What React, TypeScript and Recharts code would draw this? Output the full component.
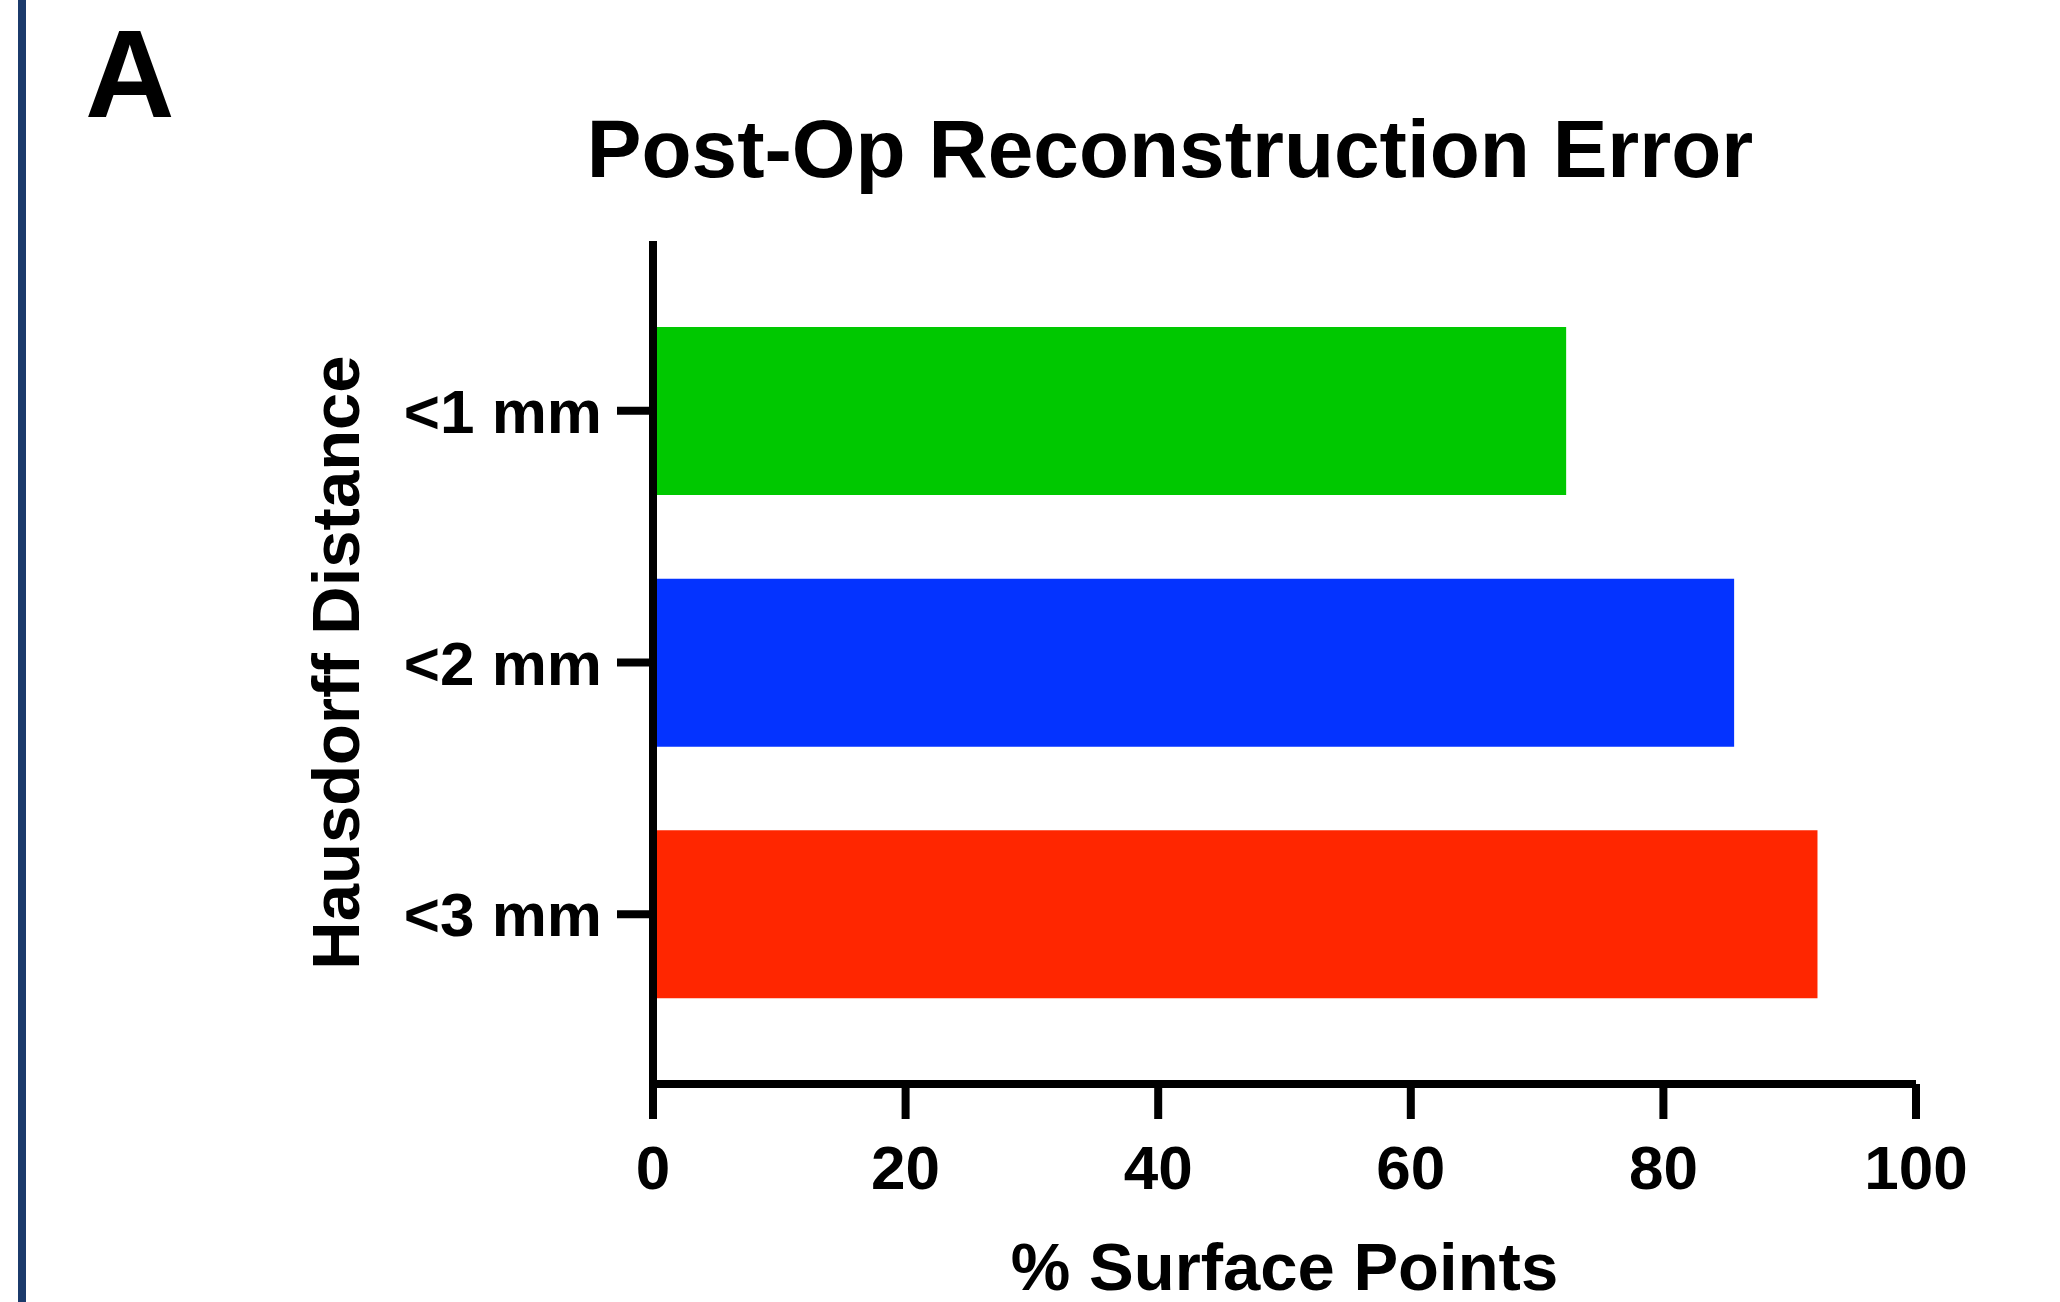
import React from "react";
import { Bar, BarChart, Cell, XAxis, YAxis } from "recharts";

const categories = ["<1 mm", "<2 mm", "<3 mm"];
const surfacePoints = [72.3, 85.6, 92.2];
const barColors = ["#00C800", "#0433FF", "#FF2600"];
const xTicks = [0, 20, 40, 60, 80, 100];

const data = categories.map((c, i) => ({ name: c, value: surfacePoints[i] }));

const FONT = "'Liberation Sans', Arial, Helvetica, sans-serif";
const tickStyle = { fontFamily: FONT, fontWeight: 700, fontSize: 62, fill: "#000" };

export default function App() {
    return (
        <div style={{ position: "absolute", left: 0, top: 0, width: 2060, height: 1302, background: "#fff" }}>
            <BarChart
                width={2060}
                height={1302}
                data={data}
                layout="vertical"
                margin={{ top: 241, right: 144, bottom: 0, left: 0 }}
            >
                <XAxis
                    type="number"
                    domain={[0, 100]}
                    ticks={xTicks}
                    height={218}
                    stroke="#000"
                    strokeWidth={8}
                    tickSize={35}
                    tickMargin={26}
                    tick={tickStyle}
                    tickLine={{ stroke: "#000", strokeWidth: 8 }}
                    axisLine={{ stroke: "#000", strokeWidth: 8 }}
                    label={{
                        value: "% Surface Points",
                        position: "insideBottom",
                        offset: 12,
                        style: { fontFamily: FONT, fontWeight: 700, fontSize: 67, fill: "#000" },
                    }}
                />
                <YAxis
                    type="category"
                    dataKey="name"
                    width={653}
                    padding={{ top: 44, bottom: 44 }}
                    stroke="#000"
                    tickSize={36}
                    tickMargin={15}
                    tick={tickStyle}
                    tickLine={{ stroke: "#000", strokeWidth: 8 }}
                    axisLine={{ stroke: "#000", strokeWidth: 8 }}
                    label={{
                        value: "Hausdorff Distance",
                        angle: -90,
                        position: "insideLeft",
                        offset: 335,
                        style: { fontFamily: FONT, fontWeight: 700, fontSize: 67, fill: "#000", textAnchor: "middle" },
                    }}
                />
                <Bar dataKey="value" barSize={168} isAnimationActive={false}>
                    {data.map((d, i) => (
                        <Cell key={d.name} fill={barColors[i]} />
                    ))}
                </Bar>
            </BarChart>
            <svg
                width={2060}
                height={1302}
                style={{ position: "absolute", left: 0, top: 0, pointerEvents: "none" }}
            >
                <rect x={18} y={0} width={8} height={1302} fill="#1b3a6b" />
                <text x={85} y={117} fontFamily={FONT} fontWeight={700} fontSize={124} fill="#000">
                    A
                </text>
                <text x={1170} y={177} textAnchor="middle" fontFamily={FONT} fontWeight={700} fontSize={82} fill="#000">
                    Post-Op Reconstruction Error
                </text>
            </svg>
        </div>
    );
}
